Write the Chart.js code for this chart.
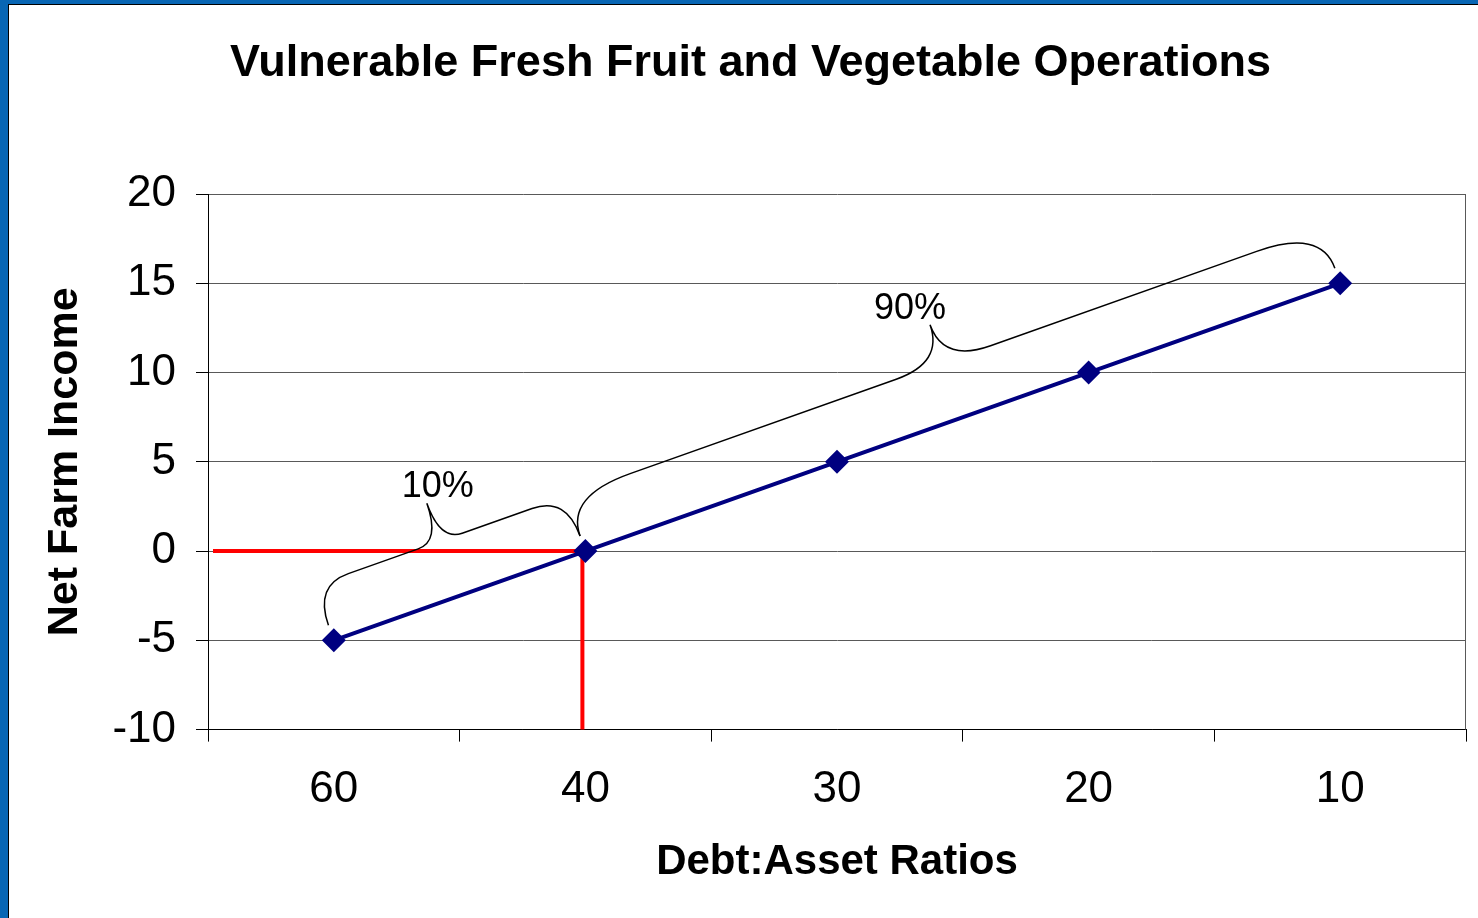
<!DOCTYPE html>
<html>
<head>
<meta charset="utf-8">
<title>Vulnerable Fresh Fruit and Vegetable Operations</title>
<script src="https://cdn.jsdelivr.net/npm/chart.js@4.4.0/dist/chart.umd.min.js"></script>
<style>
  html, body { margin: 0; padding: 0; background: #fff; }
  #wrap { position: relative; width: 1478px; height: 918px; overflow: hidden; background: #fff; }
  #wrap canvas { position: absolute; left: 0; top: 0; }
  .bar { position: absolute; background: #0866b4; }
  .edge { position: absolute; background: #000; }
</style>
</head>
<body>
<div id="wrap">
  <canvas id="myChart" width="1478" height="918"></canvas>
  <div class="bar" style="left:0;top:0;width:1478px;height:4px"></div>
  <div class="bar" style="left:0;top:0;width:8px;height:918px"></div>
  <div class="edge" style="left:8px;top:4px;width:1470px;height:1px"></div>
  <div class="edge" style="left:8px;top:4px;width:1px;height:914px"></div>
</div>
<script>
// chart values
const ratioLabels = ['60', '40', '30', '20', '10'];
const netIncome = [-5, 0, 5, 10, 15];
const yMin = -10;
const yMax = 20;
const yStep = 5;

// braces drawn over the line (category index from / to)
const braceFrom = [0, 1];
const braceTo = [1, 4];
const braceText = ['10%', '90%'];

// break-even point marked with the red lines
const breakEvenIndex = 1;
const breakEvenValue = 0;

const FONT = "'Liberation Sans', Arial, Helvetica, sans-serif";
Chart.defaults.font.family = FONT;
Chart.defaults.color = '#000';

// red break-even lines, right border and the curly braces
const guides = {
    id: 'guides',
    beforeDatasetsDraw(chart) {
        const { ctx, chartArea, scales: { x, y } } = chart;
        ctx.save();
        ctx.strokeStyle = '#595959';
        ctx.lineWidth = 1;
        ctx.beginPath();
        ctx.moveTo(chartArea.right - 0.5, chartArea.top);
        ctx.lineTo(chartArea.right - 0.5, chartArea.bottom);
        ctx.stroke();

        const px = x.getPixelForValue(breakEvenIndex);
        const py = y.getPixelForValue(breakEvenValue);
        ctx.strokeStyle = '#ff0000';
        ctx.lineWidth = 4;
        ctx.beginPath();
        ctx.moveTo(chartArea.left + 5, py);
        ctx.lineTo(px, py);
        ctx.moveTo(px - 3, py);
        ctx.lineTo(px - 3, chartArea.bottom);
        ctx.stroke();
        ctx.restore();
    },
    afterDatasetsDraw(chart) {
        const { ctx, scales: { x, y } } = chart;
        const labelShift = [11, -20];
        ctx.save();
        ctx.strokeStyle = '#000';
        ctx.lineWidth = 1.5;
        ctx.fillStyle = '#000';
        ctx.font = '36px ' + FONT;
        ctx.textAlign = 'center';
        ctx.textBaseline = 'bottom';
        braceFrom.forEach((from, i) => {
            const to = braceTo[i];
            const a = { x: x.getPixelForValue(from), y: y.getPixelForValue(netIncome[from]) };
            const b = { x: x.getPixelForValue(to), y: y.getPixelForValue(netIncome[to]) };
            const vx = b.x - a.x, vy = b.y - a.y;
            const len = Math.hypot(vx, vy);
            const ux = vx / len, uy = vy / len;
            const nx = uy, ny = -ux;
            const P = (s, h) => [a.x + ux * s + nx * h, a.y + uy * s + ny * h];
            const foot = 16, mid = 58, tip = 98;
            const r1 = 20 + 0.06 * len, r2 = 10 + 0.05 * len, t = len / 2;

            ctx.beginPath();
            ctx.moveTo(...P(0, foot));
            ctx.quadraticCurveTo(...P(0, mid), ...P(r1, mid));
            ctx.lineTo(...P(t - r2, mid));
            ctx.quadraticCurveTo(...P(t, mid), ...P(t, tip));
            ctx.quadraticCurveTo(...P(t, mid), ...P(t + r2, mid));
            ctx.lineTo(...P(len - r1, mid));
            ctx.quadraticCurveTo(...P(len, mid), ...P(len, foot));
            ctx.stroke();

            const [tx, ty] = P(t, tip);
            ctx.fillText(braceText[i], tx + labelShift[i], ty + 2);
        });
        ctx.restore();
    }
};

function drawChart() {
    const ctx = document.getElementById('myChart').getContext('2d');

    new Chart(ctx, {
        type: 'line',
        data: {
            labels: ratioLabels,
            datasets: [{
                data: netIncome,
                borderColor: '#000080',
                backgroundColor: '#000080',
                borderWidth: 4,
                pointStyle: 'rectRot',
                pointRadius: 12,
                pointHoverRadius: 12,
                pointBorderWidth: 0,
                fill: false,
                tension: 0
            }]
        },
        options: {
            responsive: false,
            animation: false,
            events: [],
            layout: { padding: { left: 30, right: 7, top: 0, bottom: 0 } },
            plugins: {
                legend: { display: false },
                tooltip: { enabled: false },
                title: {
                    display: true,
                    text: 'Vulnerable Fresh Fruit and Vegetable Operations',
                    color: '#000',
                    font: { size: 45, weight: 'bold' },
                    padding: { top: 37, bottom: 103 }
                }
            },
            scales: {
                x: {
                    offset: true,
                    grid: {
                        offset: true,
                        drawOnChartArea: false,
                        drawTicks: true,
                        tickLength: 12,
                        color: '#000',
                        tickColor: '#000'
                    },
                    border: { color: '#000', width: 1 },
                    ticks: { color: '#000', font: { size: 44 }, padding: 21.6, maxRotation: 0 },
                    title: {
                        display: true,
                        text: 'Debt:Asset Ratios',
                        color: '#000',
                        font: { size: 42, weight: 'bold' },
                        padding: { top: 0, bottom: 30 }
                    },
                    afterFit(scale) {
                        scale.paddingLeft = 0;
                        scale.paddingRight = 0;
                    }
                },
                y: {
                    min: yMin,
                    max: yMax,
                    grid: { color: '#595959', tickLength: 12, tickColor: '#000' },
                    border: { color: '#000', width: 1 },
                    ticks: { stepSize: yStep, color: '#000', font: { size: 44 }, padding: 20 },
                    title: {
                        display: true,
                        text: 'Net Farm Income',
                        color: '#000',
                        font: { size: 43, weight: 'bold' },
                        padding: { top: 9, bottom: 0 }
                    },
                    afterFit(scale) {
                        scale.width = 178;
                    }
                }
            }
        },
        plugins: [guides]
    });
}

drawChart();
</script>
</body>
</html>
